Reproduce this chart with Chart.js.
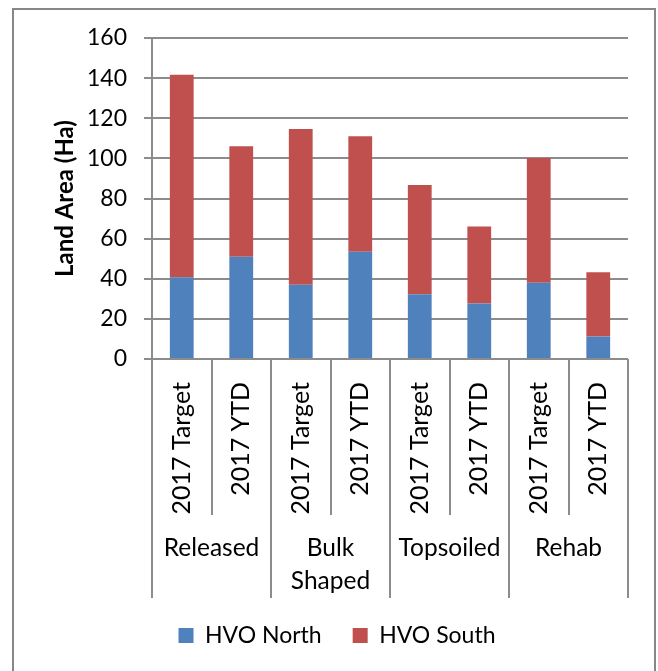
<!DOCTYPE html>
<html>
<head>
<meta charset="utf-8">
<script src="https://cdn.jsdelivr.net/npm/chart.js@4/dist/chart.umd.min.js"></script>
<style>
  html, body { margin: 0; padding: 0; background: #fff; width: 658px; height: 671px; overflow: hidden; }
  #frame { position: absolute; left: 12px; top: 8px; width: 644px; height: 720px; box-sizing: border-box; border: 2px solid #878787; }
  #c { position: absolute; left: 0; top: 0; }
</style>
</head>
<body>
<div id="frame"></div>
<canvas id="c" width="658" height="671"></canvas>
<script>
const subLabels = ['2017 Target', '2017 YTD', '2017 Target', '2017 YTD', '2017 Target', '2017 YTD', '2017 Target', '2017 YTD'];
const groupLabels = ['Released', ['Bulk', 'Shaped'], 'Topsoiled', 'Rehab'];
const hvoNorth = [40.7, 51, 37, 53.5, 32.3, 27.7, 38, 11.2];
const hvoSouth = [101, 55, 77.7, 57.5, 54.4, 38.3, 62.2, 32.1];
const yTicks = [0, 20, 40, 60, 80, 100, 120, 140, 160];

const FONT = 'Lato';
const GRID = '#8c8c8c';

new Chart(document.getElementById('c'), {
  type: 'bar',
  data: {
    labels: subLabels,
    datasets: [
      { label: 'HVO North', data: hvoNorth, backgroundColor: '#4F81BD', xAxisID: 'x', yAxisID: 'y' },
      { label: 'HVO South', data: hvoSouth, backgroundColor: '#C0504D', xAxisID: 'x', yAxisID: 'y' }
    ]
  },
  options: {
    responsive: false,
    animation: false,
    devicePixelRatio: 1,
    datasets: { bar: { barPercentage: 0.4, categoryPercentage: 1.0 } },
    layout: { padding: { left: 46, top: 38, right: 30, bottom: 18 } },
    plugins: {
      tooltip: { enabled: false },
      legend: {
        position: 'bottom',
        maxHeight: 60,
        labels: {
          boxWidth: 15, boxHeight: 15, padding: 31,
          color: '#000',
          font: { family: FONT, size: 23 }
        }
      }
    },
    scales: {
      y: {
        stacked: true,
        min: 0, max: 160,
        afterBuildTicks: (s) => { s.ticks = yTicks.map(v => ({ value: v })); },
        afterFit: (s) => { s.width = 106; },
        grid: { color: GRID, lineWidth: 2, tickLength: 8 },
        border: { color: GRID, width: 2 },
        ticks: { color: '#000', padding: 17, font: { family: FONT, size: 23 } },
        title: { display: true, text: 'Land Area (Ha)', color: '#000', padding: { top: 5, bottom: 4 }, font: { family: FONT, size: 24, weight: 'bold' } }
      },
      x: {
        stacked: true,
        weight: 0,
        afterFit: (s) => { s.height = 156; },
        grid: { offset: true, drawOnChartArea: false, tickLength: 156, color: GRID, lineWidth: 2 },
        border: { display: false },
        ticks: { color: '#000', autoSkip: false, minRotation: 90, maxRotation: 90, padding: -133, font: { family: FONT, size: 25 } }
      },
      x2: {
        type: 'category',
        position: 'bottom',
        weight: 1,
        labels: groupLabels,
        afterFit: (s) => { s.height = 78; },
        grid: { offset: true, drawOnChartArea: false, tickLength: 83, color: GRID, lineWidth: 2 },
        border: { display: false },
        ticks: { color: '#000', autoSkip: false, maxRotation: 0, minRotation: 0, padding: -67, font: { family: FONT, size: 24.5, lineHeight: 1.36 } }
      }
    }
  }
});
</script>
</body>
</html>
